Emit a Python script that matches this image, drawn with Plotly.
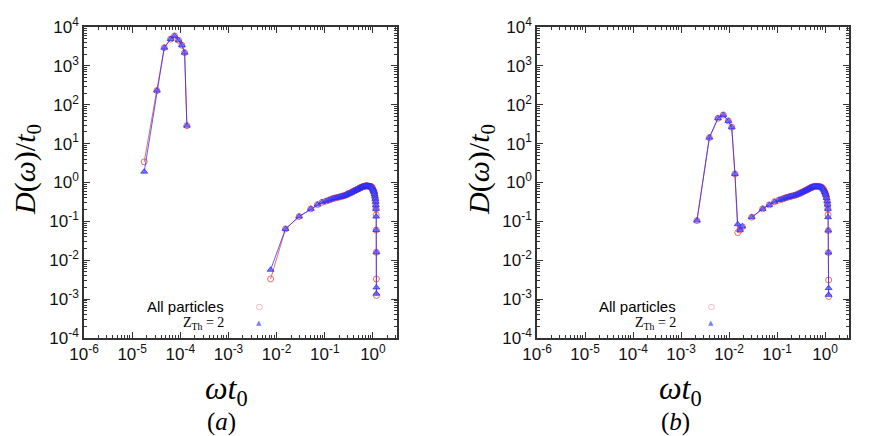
import plotly.graph_objects as go

# ---- panel (a) data ----
xa = [1.78e-5, 3.27e-5, 4.65e-5, 6.3e-5, 7.6e-5, 9.2e-5, 1.08e-4, 1.23e-4, 1.37e-4, None,
      0.0075, 0.0153, 0.0293, 0.0513, 0.0705, 0.088, 0.105, 0.12, 0.135, 0.15, 0.165, 0.18,
      0.195, 0.21, 0.225, 0.24, 0.255, 0.27, 0.285, 0.30, 0.32, 0.34, 0.36, 0.38, 0.40, 0.42,
      0.44, 0.46, 0.48, 0.50, 0.52, 0.54, 0.56, 0.58, 0.60, 0.62, 0.64, 0.66, 0.68, 0.70,
      0.72, 0.74, 0.76, 0.78, 0.80, 0.82, 0.84, 0.86, 0.88, 0.90, 0.92, 0.94, 0.96, 0.98,
      1.00, 1.02, 1.04, 1.06, 1.08, 1.10, 1.12, 1.14, 1.15, 1.16, 1.17, 1.17, 1.18, 1.18, 1.18]
ya_all = [3.4, 231, 2940, 4900, 5900, 4550, 3390, 2190, 29, None,
          0.0033, 0.064, 0.133, 0.21, 0.27, 0.31, 0.33, 0.35, 0.37, 0.39, 0.40, 0.41,
          0.42, 0.43, 0.44, 0.45, 0.46, 0.47, 0.49, 0.51, 0.52, 0.54, 0.56, 0.58, 0.60, 0.62,
          0.64, 0.65, 0.67, 0.69, 0.71, 0.73, 0.74, 0.76, 0.77, 0.78, 0.79, 0.80, 0.81, 0.81,
          0.82, 0.82, 0.82, 0.81, 0.81, 0.80, 0.80, 0.80, 0.79, 0.79, 0.78, 0.77, 0.75, 0.72,
          0.67, 0.63, 0.60, 0.56, 0.50, 0.44, 0.38, 0.32, 0.26, 0.21, 0.147, 0.06, 0.016,
          0.0033, 0.00124]
ya_z2 = [1.9, 231, 2940, 4900, 5900, 4550, 3390, 2190, 29, None,
         0.0057, 0.064, 0.133, 0.21, 0.27, 0.31, 0.33, 0.35, 0.37, 0.39, 0.40, 0.41,
         0.42, 0.43, 0.44, 0.45, 0.46, 0.47, 0.49, 0.51, 0.52, 0.54, 0.56, 0.58, 0.60, 0.62,
         0.64, 0.65, 0.67, 0.69, 0.71, 0.73, 0.74, 0.76, 0.77, 0.78, 0.79, 0.80, 0.81, 0.81,
         0.82, 0.82, 0.82, 0.81, 0.81, 0.80, 0.80, 0.80, 0.79, 0.79, 0.78, 0.77, 0.75, 0.72,
         0.67, 0.63, 0.60, 0.56, 0.50, 0.44, 0.38, 0.32, 0.26, 0.21, 0.133, 0.06, 0.016,
         0.002, 0.00138]

# ---- panel (b) data ----
xb = [2.15e-3, 3.9e-3, 5.9e-3, 7.6e-3, 9.7e-3, 0.0114, 0.0133, 0.0152, 0.017, 0.019, None,
      0.0297, 0.0503, 0.069, 0.089, 0.11, 0.125, 0.14, 0.155, 0.17, 0.185, 0.20, 0.22, 0.24,
      0.26, 0.28, 0.30, 0.32, 0.34, 0.36, 0.38, 0.40, 0.42, 0.44, 0.46, 0.48, 0.50, 0.52,
      0.54, 0.56, 0.58, 0.60, 0.63, 0.66, 0.69, 0.72, 0.75, 0.78, 0.81, 0.84, 0.87, 0.90,
      0.93, 0.96, 0.99, 1.02, 1.05, 1.08, 1.11, 1.13, 1.15, 1.16, 1.17, 1.18, 1.19, 1.19]
yb_all = [0.105, 14.3, 45, 54.7, 38.4, 26.4, 1.66, 0.0516, 0.0605, 0.0736, None,
          0.128, 0.21, 0.265, 0.32, 0.355, 0.37, 0.39, 0.41, 0.42, 0.435, 0.445, 0.46, 0.47,
          0.49, 0.51, 0.53, 0.55, 0.57, 0.59, 0.61, 0.63, 0.65, 0.67, 0.69, 0.71, 0.73, 0.75,
          0.76, 0.77, 0.78, 0.785, 0.79, 0.79, 0.79, 0.785, 0.78, 0.775, 0.77, 0.76, 0.74, 0.71,
          0.67, 0.62, 0.57, 0.52, 0.47, 0.40, 0.33, 0.27, 0.21, 0.147, 0.058, 0.0158, 0.0031,
          0.00117]
yb_z2 = [0.105, 14.3, 45, 54.7, 38.4, 26.4, 1.66, 0.0846, 0.0605, 0.0736, None,
         0.128, 0.21, 0.265, 0.32, 0.355, 0.37, 0.39, 0.41, 0.42, 0.435, 0.445, 0.46, 0.47,
         0.49, 0.51, 0.53, 0.55, 0.57, 0.59, 0.61, 0.63, 0.65, 0.67, 0.69, 0.71, 0.73, 0.75,
         0.76, 0.77, 0.78, 0.785, 0.79, 0.79, 0.79, 0.785, 0.78, 0.775, 0.77, 0.76, 0.74, 0.71,
         0.67, 0.62, 0.57, 0.52, 0.47, 0.40, 0.33, 0.27, 0.21, 0.128, 0.058, 0.0158, 0.00192,
         0.00129]

x_ticks = [1e-6, 1e-5, 1e-4, 1e-3, 1e-2, 1e-1, 1]
x_labels = ["10<sup>-6</sup>", "10<sup>-5</sup>", "10<sup>-4</sup>", "10<sup>-3</sup>",
            "10<sup>-2</sup>", "10<sup>-1</sup>", "10<sup>0</sup>"]
y_ticks = [1e-4, 1e-3, 1e-2, 1e-1, 1, 10, 100, 1000, 1e4]
y_labels = ["10<sup>-4</sup>", "10<sup>-3</sup>", "10<sup>-2</sup>", "10<sup>-1</sup>",
            "10<sup>0</sup>", "10<sup>1</sup>", "10<sup>2</sup>", "10<sup>3</sup>",
            "10<sup>4</sup>"]

RED = "rgba(235,80,80,0.85)"
BLUE = "rgba(40,40,245,0.75)"

# the page keeps an 8px body margin, so the figure fills the rest of the window
PAD = 8
W, H = 872 - PAD, 436 - PAD


def px(sx):
    return (sx - PAD) / W


def py(sy):
    return 1 - (sy - PAD) / H


fig = go.Figure()
for xs, yr, yb, ax in [(xa, ya_all, ya_z2, ""), (xb, yb_all, yb_z2, "2")]:
    fig.add_trace(go.Scatter(x=xs, y=yr, mode="lines+markers", xaxis="x" + ax, yaxis="y" + ax,
                             line=dict(color=RED, width=1),
                             marker=dict(symbol="circle-open", size=6, color=RED, line=dict(width=1)),
                             showlegend=False))
    fig.add_trace(go.Scatter(x=xs, y=yb, mode="lines+markers", xaxis="x" + ax, yaxis="y" + ax,
                             line=dict(color=BLUE, width=1),
                             marker=dict(symbol="triangle-up", size=6, color="rgba(90,90,255,0.8)",
                                         line=dict(width=1, color=BLUE)),
                             showlegend=False))

tick_font = dict(family="Liberation Sans, Arial", size=17, color="#111")
axis_common = dict(type="log", showline=True, linecolor="#333", linewidth=1.5, mirror="allticks",
                   ticks="inside", ticklen=6, tickcolor="#333", showgrid=False, zeroline=False,
                   tickfont=tick_font, automargin=False,
                   minor=dict(ticks="inside", ticklen=3, tickcolor="#333", dtick="D1", showgrid=False))

xdom = [[px(84), px(397)], [px(537), px(849)]]
ydom = [py(338), py(27)]

layout = dict(width=W, height=H, margin=dict(l=0, r=0, t=0, b=0, autoexpand=False),
              plot_bgcolor="white", paper_bgcolor="white", showlegend=False)
for i, ax in enumerate(["", "2"]):
    layout["xaxis" + ax] = dict(axis_common, domain=xdom[i], range=[-6, 0.5],
                                tickmode="array", tickvals=x_ticks, ticktext=x_labels,
                                anchor="y" + ax)
    layout["yaxis" + ax] = dict(axis_common, domain=ydom, range=[-4, 4],
                                tickmode="array", tickvals=y_ticks, ticktext=y_labels,
                                anchor="x" + ax)
fig.update_layout(**layout)

serif = "Liberation Serif, Times New Roman, serif"
annots = []
for i, tag in enumerate(["a", "b"]):
    off = [0, 452][i]
    toff = [0, 454][i]
    annots += [
        dict(text="<i>D</i>(<i>ω</i>)/<i>t</i><sub>0</sub>", x=px(27 + toff), y=py(170),
             textangle=-90, font=dict(family=serif, size=30, color="black")),
        dict(text="<i>ωt</i><sub>0</sub>", x=px(226 + toff), y=py(390),
             font=dict(family=serif, size=32, color="black")),
        dict(text="(<i>%s</i>)" % tag, x=px(221 + toff), y=py(422),
             font=dict(family=serif, size=25, color="black")),
        dict(text="All particles", x=px(226 + off), y=py(306), xanchor="right",
             font=dict(family="Liberation Sans, Arial", size=15, color="black")),
        dict(text="Z<sub>Th</sub> = 2", x=px(226 + off), y=py(323), xanchor="right",
             font=dict(family=serif, size=14, color="black")),
        dict(text="○", x=px(259 + off), y=py(306),
             font=dict(family="DejaVu Sans", size=8, color=RED)),
        dict(text="▲", x=px(259 + off), y=py(323),
             font=dict(family="DejaVu Sans", size=7, color="rgba(90,90,255,0.8)")),
    ]
for a in annots:
    a.setdefault("xanchor", "center")
    a.update(xref="paper", yref="paper", showarrow=False, yanchor="middle")
fig.update_layout(annotations=annots)

fig.write_html("out.html")
